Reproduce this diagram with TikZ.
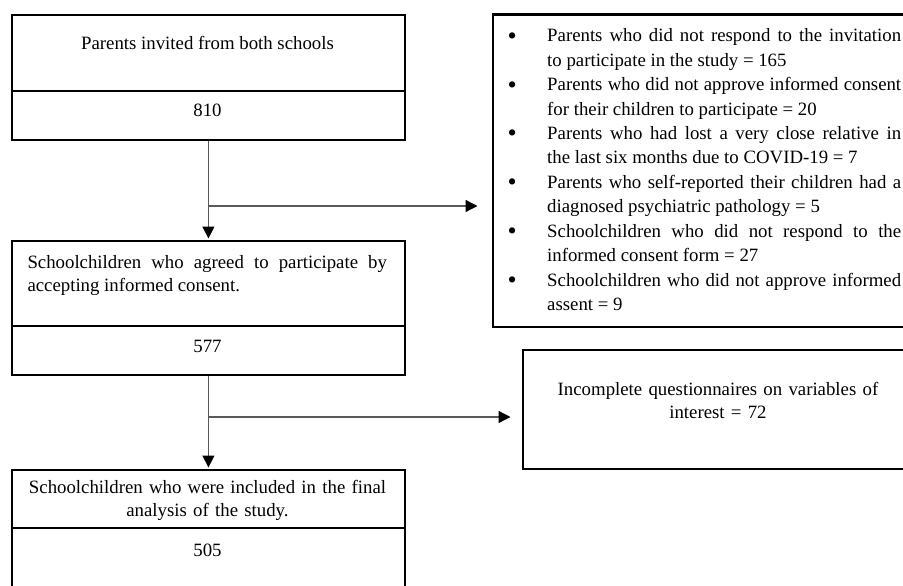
\documentclass[tikz,border=0pt]{standalone}
\usepackage{fontspec}
\setmainfont{Liberation Serif}
\usetikzlibrary{arrows.meta}
\newcommand\bigbullet{\hspace*{-1.5pt}\raisebox{-2.5pt}{\fontsize{26}{26}\selectfont •}}
\newcommand\bitem[1]{\noindent\hangindent=38pt\hangafter=1\makebox[38pt][l]{\bigbullet}#1\par}
\begin{document}
\begin{tikzpicture}[x=1pt,y=-1pt,
  box/.style={draw=black, line width=2.4pt, rectangle, inner sep=0pt, anchor=north west},
  txt/.style={inner sep=0pt, font=\fontsize{18.8}{23}\selectfont},
  listtxt/.style={inner sep=0pt, font=\fontsize{18.8}{24.45}\selectfont, text width=392pt, align=justify},
  conn/.style={draw=black!65, line width=1.3pt, -{Triangle[length=12pt,width=12pt,fill=black,color=black]}}
]
\useasboundingbox (0,0) rectangle (903,586);
\fill[white] (0,0) rectangle (903,586);

% left column boxes
\node[box, minimum width=393.5pt, minimum height=76pt] (a1) at (10.5,13.8) {};
\node[box, minimum width=393.5pt, minimum height=49.2pt] (a2) at (10.5,89.8) {};
\node[box, minimum width=393.5pt, minimum height=85pt] (b1) at (10.5,240) {};
\node[box, minimum width=393.5pt, minimum height=49pt] (b2) at (10.5,325) {};
\node[box, minimum width=393.5pt, minimum height=58pt] (c1) at (10.5,469) {};
\node[box, minimum width=393.5pt, minimum height=113pt] (c2) at (10.5,527) {};

% right boxes
\node[box, minimum width=411pt, minimum height=312.5pt] (r1) at (491.5,13.5) {};
\node[box, minimum width=381pt, minimum height=118.5pt] (r2) at (521.5,349) {};

% texts
\node[txt, anchor=base] (a1t) at (207.5,50) {Parents invited from both schools};
\node[txt, anchor=base] (a2t) at (207.5,117) {810};
\node[txt, anchor=base west, text width=359.5pt, align=justify] (b1t) at (27.3,268.3)
  {Schoolchildren who agreed to participate by\linebreak accepting informed consent.};
\node[txt, anchor=base] (b2t) at (207.5,352.7) {577};
\node[txt, anchor=base, text width=380pt, align=center] (c1t) at (207.5,493.3)
  {Schoolchildren who were included in the final\\ analysis of the study.};
\node[txt, anchor=base] (c2t) at (207.5,556.5) {505};
\node[txt, anchor=base, text width=370pt, align=center] (r2t) at (718,395)
  {Incomplete questionnaires on variables of\\ interest = 72};
\node[listtxt, anchor=base west] (r1t) at (509,41.7) {%
\bitem{Parents who did not respond to the invitation\linebreak to participate in the study = 165}%
\bitem{Parents who did not approve informed consent\linebreak for their children to participate = 20}%
\bitem{Parents who had lost a very close relative in\linebreak the last six months due to COVID-19 = 7}%
\bitem{Parents who self-reported their children had a\linebreak diagnosed psychiatric pathology = 5}%
\bitem{Schoolchildren who did not respond to the\linebreak informed consent form = 27}%
\bitem{Schoolchildren who did not approve informed\linebreak assent = 9}};

% connectors
\draw[conn, shorten >=1.5pt] (a2.south) -- (b1.north);
\draw[conn, shorten >=1.5pt] (b2.south) -- (c1.north);
\coordinate (j1) at (207.5,206);
\coordinate (j2) at (207.5,417);
\draw[conn, shorten >=14pt] (j1) -- (j1 -| r1.west);
\draw[conn, shorten >=11pt] (j2) -- (j2 -| r2.west);
\end{tikzpicture}
\end{document}
